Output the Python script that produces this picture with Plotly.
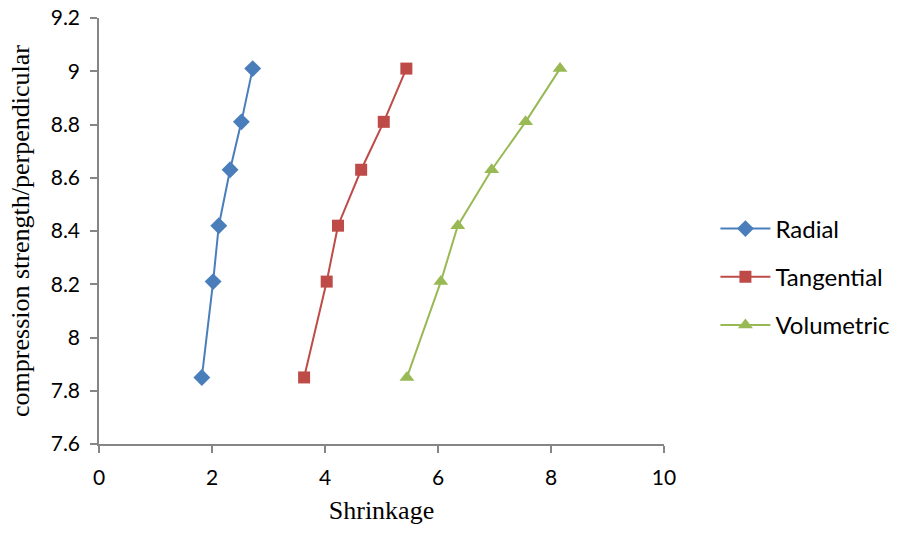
import plotly.graph_objects as go

# Shrinkage values for each direction, plotted against compression strength
strength = [7.85, 8.21, 8.42, 8.63, 8.81, 9.01]
radial = [1.82, 2.02, 2.12, 2.32, 2.52, 2.72]
tangential = [3.63, 4.03, 4.23, 4.64, 5.04, 5.44]
volumetric = [5.45, 6.05, 6.35, 6.95, 7.55, 8.16]

series_names = ["Radial", "Tangential", "Volumetric"]
series_values = [radial, tangential, volumetric]
colors = ["#4A7EBB", "#BE4B48", "#98B954"]
symbols = ["diamond", "square", "triangle-up"]
marker_sizes = [13, 12, 13]

x_ticks = [0, 2, 4, 6, 8, 10]
y_ticks = [7.6, 7.8, 8.0, 8.2, 8.4, 8.6, 8.8, 9.0, 9.2]
y_tick_text = ["7.6", "7.8", "8", "8.2", "8.4", "8.6", "8.8", "9", "9.2"]

fig = go.Figure()
for name, xs, color, sym, size in zip(series_names, series_values, colors, symbols, marker_sizes):
    fig.add_trace(go.Scatter(
        x=xs, y=strength, name=name, mode="lines+markers",
        legendgroup=name,
        line=dict(color=color, width=2),
        marker=dict(symbol=sym, size=size, color=color),
    ))

tick_font = dict(family="Lato, Noto Sans, sans-serif", size=21, color="#000000")
title_font = dict(family="Liberation Serif, Times New Roman, serif", size=26, color="#000000")
axis_color = "#868686"

fig.update_layout(
    width=898, height=535,
    margin=dict(l=99, r=234, t=18, b=91, autoexpand=False),
    plot_bgcolor="white", paper_bgcolor="white",
    showlegend=True,
    legend=dict(
        x=1.091, y=0.392, xanchor="left", yanchor="middle",
        font=dict(family="Lato, Noto Sans, sans-serif", size=24, color="#000000"),
        traceorder="grouped", tracegroupgap=14, itemwidth=50,
        bgcolor="rgba(0,0,0,0)",
    ),
    xaxis=dict(
        range=[0, 10], tickvals=x_ticks, ticktext=[str(v) for v in x_ticks],
        showgrid=False, zeroline=False, automargin=False,
        showline=True, linecolor=axis_color, linewidth=1.5,
        ticks="outside", ticklen=7, tickcolor=axis_color, tickwidth=1.5,
        tickfont=tick_font, ticklabelstandoff=7,
        title=dict(text="Shrinkage", font=title_font, standoff=13),
    ),
    yaxis=dict(
        range=[7.6, 9.2], tickvals=y_ticks, ticktext=y_tick_text,
        showgrid=False, zeroline=False, automargin=False,
        showline=True, linecolor=axis_color, linewidth=1.5,
        ticks="outside", ticklen=7, tickcolor=axis_color, tickwidth=1.5,
        tickfont=tick_font, ticklabelstandoff=6,
        title=dict(text="compression strength/perpendicular", font=title_font, standoff=14),
    ),
)

fig.write_html("out.html")
